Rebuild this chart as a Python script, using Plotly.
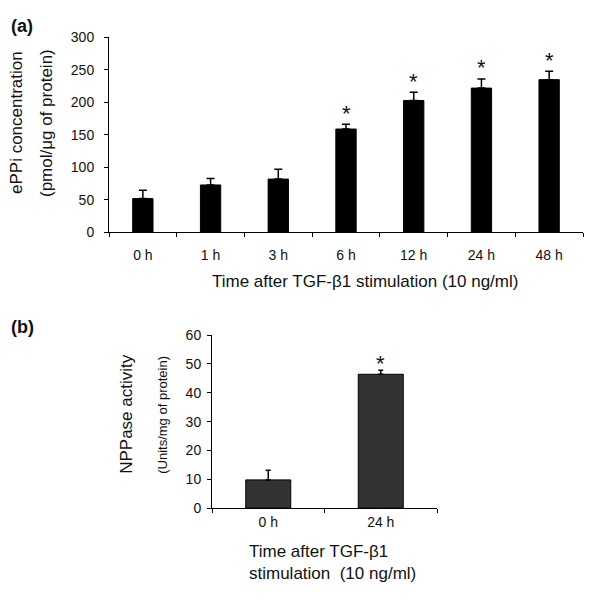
import plotly.graph_objects as go

# Panel (a) data
times_a = ["0 h", "1 h", "3 h", "6 h", "12 h", "24 h", "48 h"]
eppi = [52, 73, 82, 159, 203, 222, 235]
eppi_err = [13, 10, 15, 7.5, 12.5, 14, 13]
eppi_sig = [False, False, False, True, True, True, True]

# Panel (b) data
times_b = ["0 h", "24 h"]
nppase = [9.8, 46.4]
nppase_err = [3.3, 1.4]
nppase_sig = [False, True]

# page body has an 8px margin; size the figure so the page fits the window
OFF = 8
W, H = 600 - 2 * OFF, 601 - 2 * OFF
FONT = "Liberation Sans, Arial, sans-serif"
TXT = "#111111"

def px(x):
    return (x - OFF) / W

def py(y):
    return 1 - (y - OFF) / H

fig = go.Figure()

fig.add_trace(go.Bar(
    x=times_a, y=eppi, width=0.3,
    marker=dict(color="black", line=dict(color="black", width=1)),
    error_y=dict(type="data", array=eppi_err, arrayminus=[0] * len(eppi),
                 symmetric=False, color="black", thickness=1.5, width=4),
    xaxis="x", yaxis="y", showlegend=False,
))

fig.add_trace(go.Bar(
    x=times_b, y=nppase, width=0.4,
    marker=dict(color="#333333", line=dict(color="black", width=1)),
    error_y=dict(type="data", array=nppase_err, arrayminus=[0] * len(nppase),
                 symmetric=False, color="black", thickness=1.5, width=2.5),
    xaxis="x2", yaxis="y2", showlegend=False,
))

axis_common = dict(
    showgrid=False, zeroline=False, showline=True, linecolor="black",
    linewidth=1, ticks="outside", tickcolor="black", tickwidth=1,
    tickfont=dict(family=FONT, size=14, color=TXT),
)

annotations = []
# significance asterisks
for t, v, e, s in zip(times_a, eppi, eppi_err, eppi_sig):
    if s:
        annotations.append(dict(x=t, y=v + e, xref="x", yref="y", text="*",
                                showarrow=False, yanchor="middle", yshift=11,
                                font=dict(family=FONT, size=22, color=TXT)))
for t, v, e, s in zip(times_b, nppase, nppase_err, nppase_sig):
    if s:
        annotations.append(dict(x=t, y=v + e, xref="x2", yref="y2", text="*",
                                showarrow=False, yanchor="middle", yshift=7,
                                font=dict(family=FONT, size=22, color=TXT)))

def txt(x, y, text, size=17, angle=0, xanchor="center", align="center"):
    annotations.append(dict(
        x=px(x), y=py(y), xref="paper", yref="paper", text=text,
        showarrow=False, textangle=angle, xanchor=xanchor, yanchor="middle",
        align=align,
        font=dict(family=FONT, size=size, color=TXT),
    ))

txt(22, 18, "<b>(a)</b>", size=18)
txt(22, 328, "<b>(b)</b>", size=18)
txt(365, 281, "Time after TGF-β1 stimulation (10 ng/ml)", size=17)
txt(17, 118, "ePPi concentration", size=17, angle=-90)
txt(47, 118, "(pmol/μg of protein)", size=17, angle=-90)
txt(127, 417, "NPPase activity", size=17, angle=-90)
txt(163, 418, "(Units/mg of protein)", size=13, angle=-90)
txt(247, 570, "Time after TGF-β1<br>stimulation  (10 ng/ml)", size=17,
    xanchor="left", align="left")

fig.update_layout(
    width=W, height=H,
    margin=dict(l=0, r=0, t=0, b=0),
    paper_bgcolor="white", plot_bgcolor="white",
    bargap=0.7,
    xaxis=dict(domain=[px(109), px(583)], anchor="y", tickson="boundaries",
               ticklen=4, ticklabelstandoff=10, **axis_common),
    yaxis=dict(domain=[py(230.5), py(30)], anchor="x", range=[0, 300],
               tickvals=[0, 50, 100, 150, 200, 250, 300], ticklen=4,
               ticklabelstandoff=7, **axis_common),
    xaxis2=dict(domain=[px(212), px(437)], anchor="y2", tickson="boundaries",
                ticklen=4, ticklabelstandoff=1, **axis_common),
    yaxis2=dict(domain=[py(514), py(336)], anchor="x2", range=[0, 60],
                tickvals=[0, 10, 20, 30, 40, 50, 60], ticklen=4,
                ticklabelstandoff=3, **axis_common),
    annotations=annotations,
)

fig.write_html("out.html", config={"displayModeBar": False})
